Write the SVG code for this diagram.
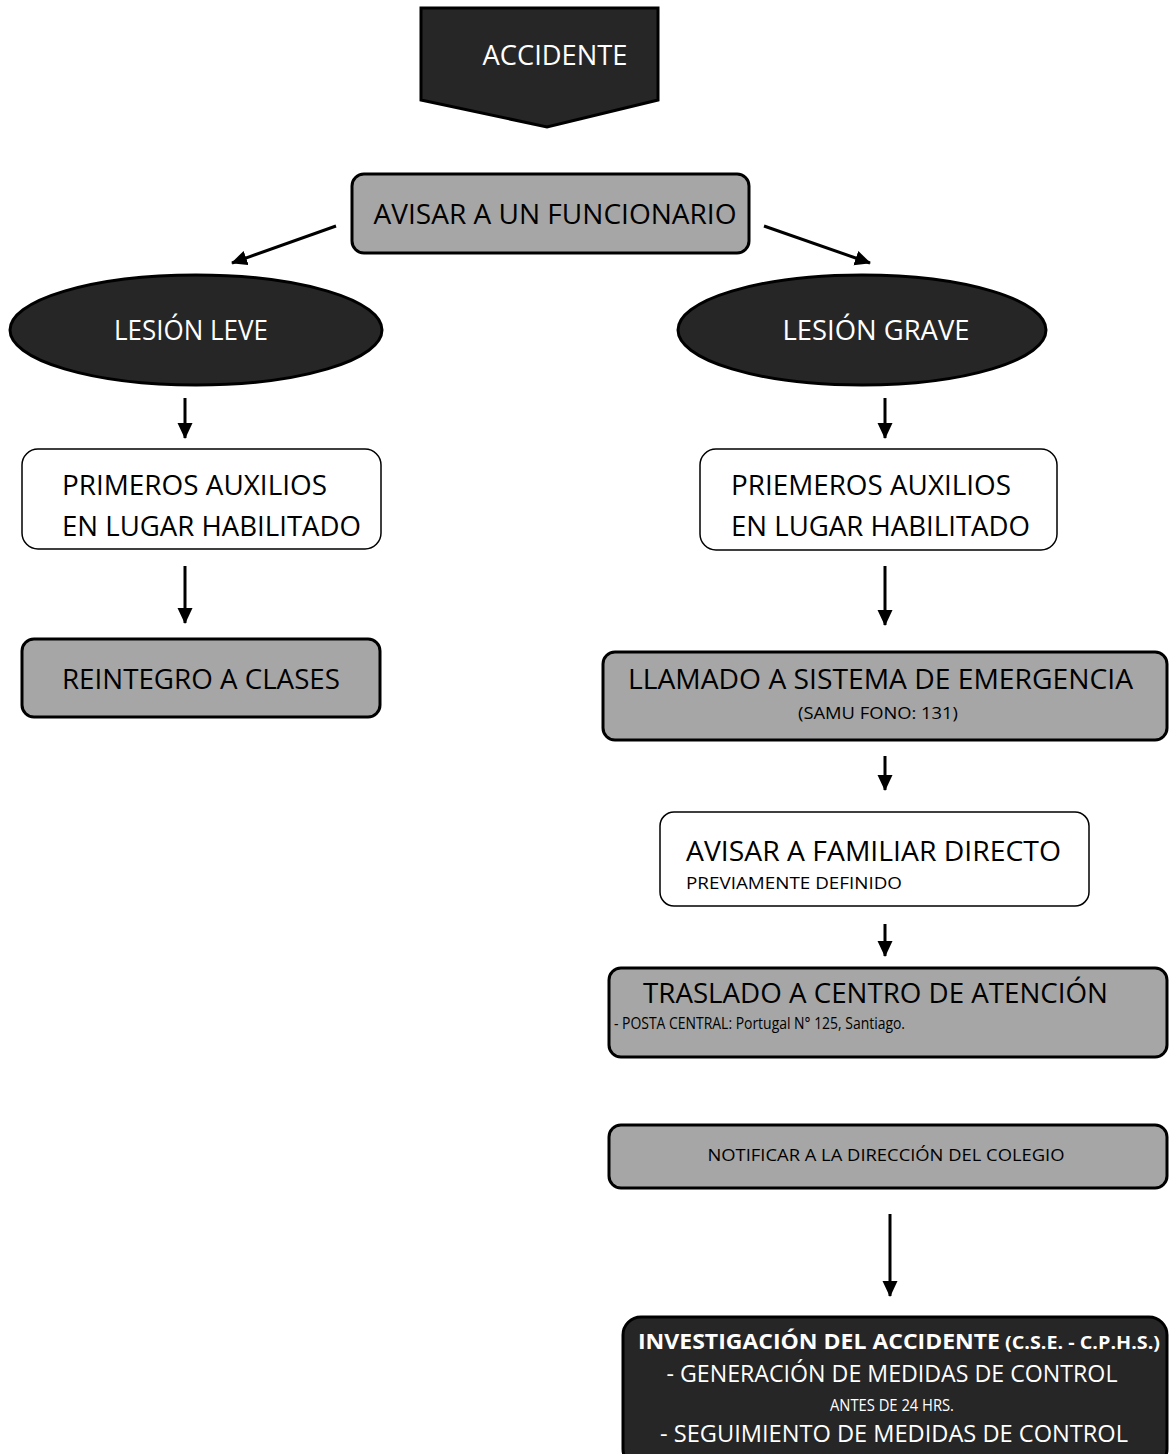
<svg xmlns="http://www.w3.org/2000/svg" width="1169" height="1454" viewBox="0 0 1169 1454">
<style>
text{font-family:"Open Sans","Noto Sans","Liberation Sans",sans-serif;}
.w{fill:#fff}.k{fill:#000}
.big{font-size:28px}.sm{font-size:17px}
.dark{fill:#262626;stroke:#000;stroke-width:3}
.gray{fill:#a6a6a6;stroke:#000;stroke-width:3}
.white{fill:#fff;stroke:#000;stroke-width:1.5}
.conn{stroke:#000;stroke-width:3;fill:none;marker-end:url(#ah)}
</style>
<defs>
<marker id="ah" markerUnits="userSpaceOnUse" markerWidth="18" markerHeight="16" refX="15" refY="7.5" orient="auto">
<path d="M0,0 L16,7.5 L0,15 Z" fill="#000"/>
</marker>
</defs>
<rect width="1169" height="1454" fill="#fff"/>
<g id="connectors">
<line class="conn" x1="336" y1="226" x2="232" y2="263"/>
<line class="conn" x1="764" y1="226" x2="870" y2="263"/>
<line class="conn" x1="185" y1="398" x2="185" y2="438"/>
<line class="conn" x1="885" y1="398" x2="885" y2="438"/>
<line class="conn" x1="185" y1="566" x2="185" y2="623"/>
<line class="conn" x1="885" y1="566" x2="885" y2="625"/>
<line class="conn" x1="885" y1="756" x2="885" y2="790"/>
<line class="conn" x1="885" y1="924" x2="885" y2="956"/>
<line class="conn" x1="890" y1="1214" x2="890" y2="1296"/>
</g>
<g id="accidente">
<path class="dark" d="M421,8 L658,8 L658,100 L547,127 L421,100 Z"/>
<text class="w big" x="555" y="65" text-anchor="middle" textLength="145" lengthAdjust="spacingAndGlyphs">ACCIDENTE</text>
</g>
<g id="avisar-funcionario">
<rect class="gray" x="352" y="174" width="397" height="79" rx="12"/>
<text class="k big" x="555" y="224" text-anchor="middle" textLength="363" lengthAdjust="spacingAndGlyphs">AVISAR A UN FUNCIONARIO</text>
</g>
<g id="lesion-leve">
<ellipse class="dark" cx="196" cy="330" rx="186" ry="55"/>
<text class="w big" x="191" y="340" text-anchor="middle" textLength="154" lengthAdjust="spacingAndGlyphs">LESIÓN LEVE</text>
</g>
<g id="lesion-grave">
<ellipse class="dark" cx="862" cy="330" rx="184" ry="55"/>
<text class="w big" x="876" y="340" text-anchor="middle" textLength="187" lengthAdjust="spacingAndGlyphs">LESIÓN GRAVE</text>
</g>
<g id="primeros-leve">
<rect class="white" x="22" y="449" width="359" height="100" rx="16"/>
<text class="k big" x="62" y="495" textLength="265" lengthAdjust="spacingAndGlyphs">PRIMEROS AUXILIOS</text>
<text class="k big" x="62" y="536" textLength="299" lengthAdjust="spacingAndGlyphs">EN LUGAR HABILITADO</text>
</g>
<g id="primeros-grave">
<rect class="white" x="700" y="449" width="357" height="101" rx="16"/>
<text class="k big" x="731" y="495" textLength="280" lengthAdjust="spacingAndGlyphs">PRIEMEROS AUXILIOS</text>
<text class="k big" x="731" y="536" textLength="299" lengthAdjust="spacingAndGlyphs">EN LUGAR HABILITADO</text>
</g>
<g id="reintegro">
<rect class="gray" x="22" y="639" width="358" height="78" rx="12"/>
<text class="k big" x="62" y="689" textLength="278" lengthAdjust="spacingAndGlyphs">REINTEGRO A CLASES</text>
</g>
<g id="llamado">
<rect class="gray" x="603" y="652" width="564" height="88" rx="12"/>
<text class="k big" x="628" y="689" textLength="505" lengthAdjust="spacingAndGlyphs">LLAMADO A SISTEMA DE EMERGENCIA</text>
<text class="k sm" x="878" y="719" text-anchor="middle" textLength="160" lengthAdjust="spacingAndGlyphs">(SAMU FONO: 131)</text>
</g>
<g id="avisar-familiar">
<rect class="white" x="660" y="812" width="429" height="94" rx="14"/>
<text class="k big" x="686" y="861" textLength="375" lengthAdjust="spacingAndGlyphs">AVISAR A FAMILIAR DIRECTO</text>
<text class="k sm" x="686" y="889" textLength="216" lengthAdjust="spacingAndGlyphs">PREVIAMENTE DEFINIDO</text>
</g>
<g id="traslado">
<rect class="gray" x="609" y="968" width="558" height="89" rx="12"/>
<text class="k big" x="643" y="1003" textLength="465" lengthAdjust="spacingAndGlyphs">TRASLADO A CENTRO DE ATENCIÓN</text>
<text class="k sm" x="614" y="1029" textLength="291" lengthAdjust="spacingAndGlyphs">- POSTA CENTRAL: Portugal N° 125, Santiago.</text>
</g>
<g id="notificar">
<rect class="gray" x="609" y="1125" width="558" height="63" rx="12"/>
<text class="k sm" x="886" y="1161" text-anchor="middle" textLength="357" lengthAdjust="spacingAndGlyphs">NOTIFICAR A LA DIRECCIÓN DEL COLEGIO</text>
</g>
<g id="investigacion">
<rect class="dark" x="623" y="1317" width="544" height="150" rx="18"/>
<text class="w" x="638" y="1349" font-size="22" font-weight="bold" textLength="362" lengthAdjust="spacingAndGlyphs">INVESTIGACIÓN DEL ACCIDENTE</text>
<text class="w" x="1005" y="1349" font-size="17" font-weight="bold" textLength="155" lengthAdjust="spacingAndGlyphs">(C.S.E. - C.P.H.S.)</text>
<text class="w" x="892" y="1382" font-size="23" text-anchor="middle" textLength="451" lengthAdjust="spacingAndGlyphs">- GENERACIÓN DE MEDIDAS DE CONTROL</text>
<text class="w sm" x="892" y="1411" text-anchor="middle" textLength="124" lengthAdjust="spacingAndGlyphs">ANTES DE 24 HRS.</text>
<text class="w" x="894" y="1442" font-size="23" text-anchor="middle" textLength="468" lengthAdjust="spacingAndGlyphs">- SEGUIMIENTO DE MEDIDAS DE CONTROL</text>
</g>
</svg>
